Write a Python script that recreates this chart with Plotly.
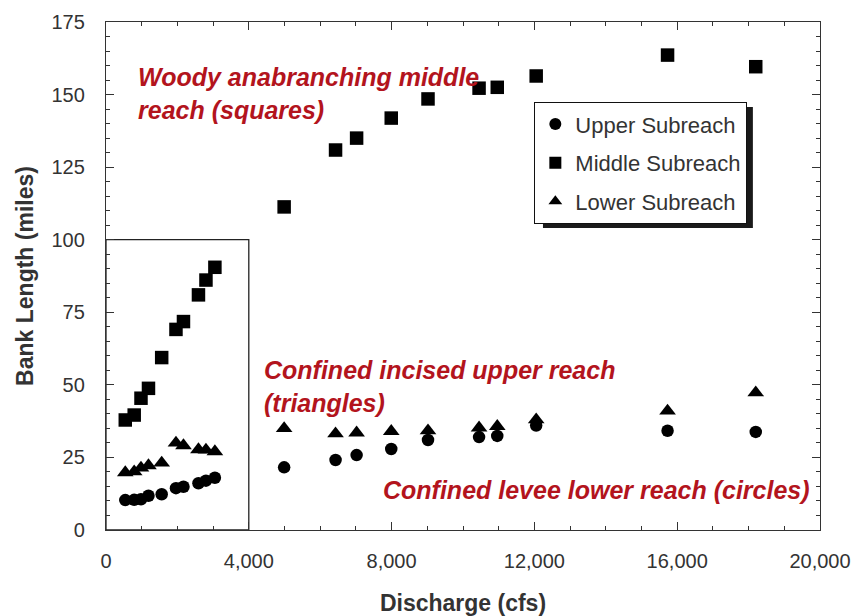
import plotly.graph_objects as go

# Discharge (cfs)
discharge_low = [540, 790, 980, 1190, 1560, 1960, 2170, 2590, 2800, 3050]
discharge_high = [4990, 6430, 7020, 7990, 9020, 10450, 10960, 12050, 15730, 18200]

upper_low = [10.3, 10.4, 10.6, 11.8, 12.3, 14.4, 14.9, 16.1, 17.0, 18.0]
upper_high = [21.6, 24.1, 25.8, 27.9, 31.0, 32.0, 32.4, 36.0, 34.2, 33.8]

middle_low = [37.9, 39.6, 45.4, 48.8, 59.4, 69.1, 71.8, 81.0, 86.1, 90.5]
middle_high = [111.3, 130.9, 135.0, 141.9, 148.5, 152.2, 152.5, 156.4, 163.6, 159.6]

lower_low = [19.8, 20.1, 21.4, 22.2, 23.1, 30.0, 29.1, 27.7, 27.6, 27.0]
lower_high = [35.0, 33.2, 33.5, 34.0, 34.2, 35.2, 35.7, 38.0, 41.0, 47.3]

series_names = ["Upper Subreach", "Middle Subreach", "Lower Subreach"]
series_symbols = ["circle", "square", "triangle-up"]
series_sizes = [12.5, 13.5, 14.5]

notes = [
    "Woody anabranching middle<br>reach (squares)",
    "Confined incised upper reach<br>(triangles)",
    "Confined levee lower reach (circles)",
]
note_x = [850, 4380, 7700]
note_y = [150.5, 49.3, 13.8]

x_ticks = [0, 4000, 8000, 12000, 16000, 20000]
y_ticks = [0, 25, 50, 75, 100, 125, 150, 175]

FONT = "Arial, 'Liberation Sans', sans-serif"
TXT = "#333333"
RED = "#B3141D"

fig = go.Figure()
ys = [upper_low + upper_high, middle_low + middle_high, lower_low + lower_high]
for i, name in enumerate(series_names):
    fig.add_trace(go.Scatter(
        x=discharge_low + discharge_high, y=ys[i], mode="markers", name=name,
        legendgroup=name,
        marker=dict(symbol=series_symbols[i], size=series_sizes[i], color="black",
                    line=dict(width=0)),
    ))

for t, xv, yv in zip(notes, note_x, note_y):
    fig.add_annotation(x=xv, y=yv, xref="x", yref="y", text=t, showarrow=False,
                       xanchor="left", yanchor="middle", align="left",
                       font=dict(family=FONT, size=25, color=RED, weight="bold", style="italic"))

# inset box
fig.add_shape(type="rect", xref="x", yref="y", x0=0, x1=4000, y0=0, y1=100,
              line=dict(color="#222222", width=1.3), layer="below")

# legend shadow
fig.add_shape(type="rect", xref="paper", yref="paper", x0=0.612, x1=0.906, y0=0.5945, y1=0.8327,
              line=dict(width=0), fillcolor="#1a1a1a", layer="above")

axis_common = dict(showline=True, linecolor="#333333", linewidth=1.3, mirror="ticks",
                   ticks="inside", ticklen=8, tickwidth=1.1, tickcolor="#333333",
                   showgrid=False, zeroline=False, automargin=False,
                   tickfont=dict(family=FONT, size=20, color=TXT))

fig.update_xaxes(range=[0, 20000], tickvals=x_ticks, tickformat=",",
                 minor=dict(dtick=1000, ticks="inside", ticklen=4, tickcolor="#333333", showgrid=False),
                 ticklabelstandoff=13,
                 title=dict(text="Discharge (cfs)", standoff=28,
                            font=dict(family=FONT, size=23, color=TXT, weight="bold")),
                 **axis_common)
fig.update_yaxes(range=[0, 175], tickvals=y_ticks,
                 minor=dict(dtick=5, ticks="inside", ticklen=4, tickcolor="#333333", showgrid=False),
                 ticklabelstandoff=16,
                 title=dict(text="Bank Length (miles)", standoff=11,
                            font=dict(family=FONT, size=23, color=TXT, weight="bold")),
                 **axis_common)

fig.update_layout(
    width=859, height=616,
    margin=dict(l=106, r=39, t=22, b=86),
    plot_bgcolor="white", paper_bgcolor="white",
    font=dict(family=FONT, color=TXT),
    showlegend=True,
    legend=dict(x=0.5995, y=0.8425, xanchor="left", yanchor="top",
                bgcolor="white", bordercolor="#111111", borderwidth=1.3,
                font=dict(family=FONT, size=22, color=TXT),
                tracegroupgap=7, itemsizing="constant"),
)

fig.write_html("out.html", config={"displayModeBar": False},
               post_script="document.body.style.margin='0';document.body.style.overflow='hidden';")
